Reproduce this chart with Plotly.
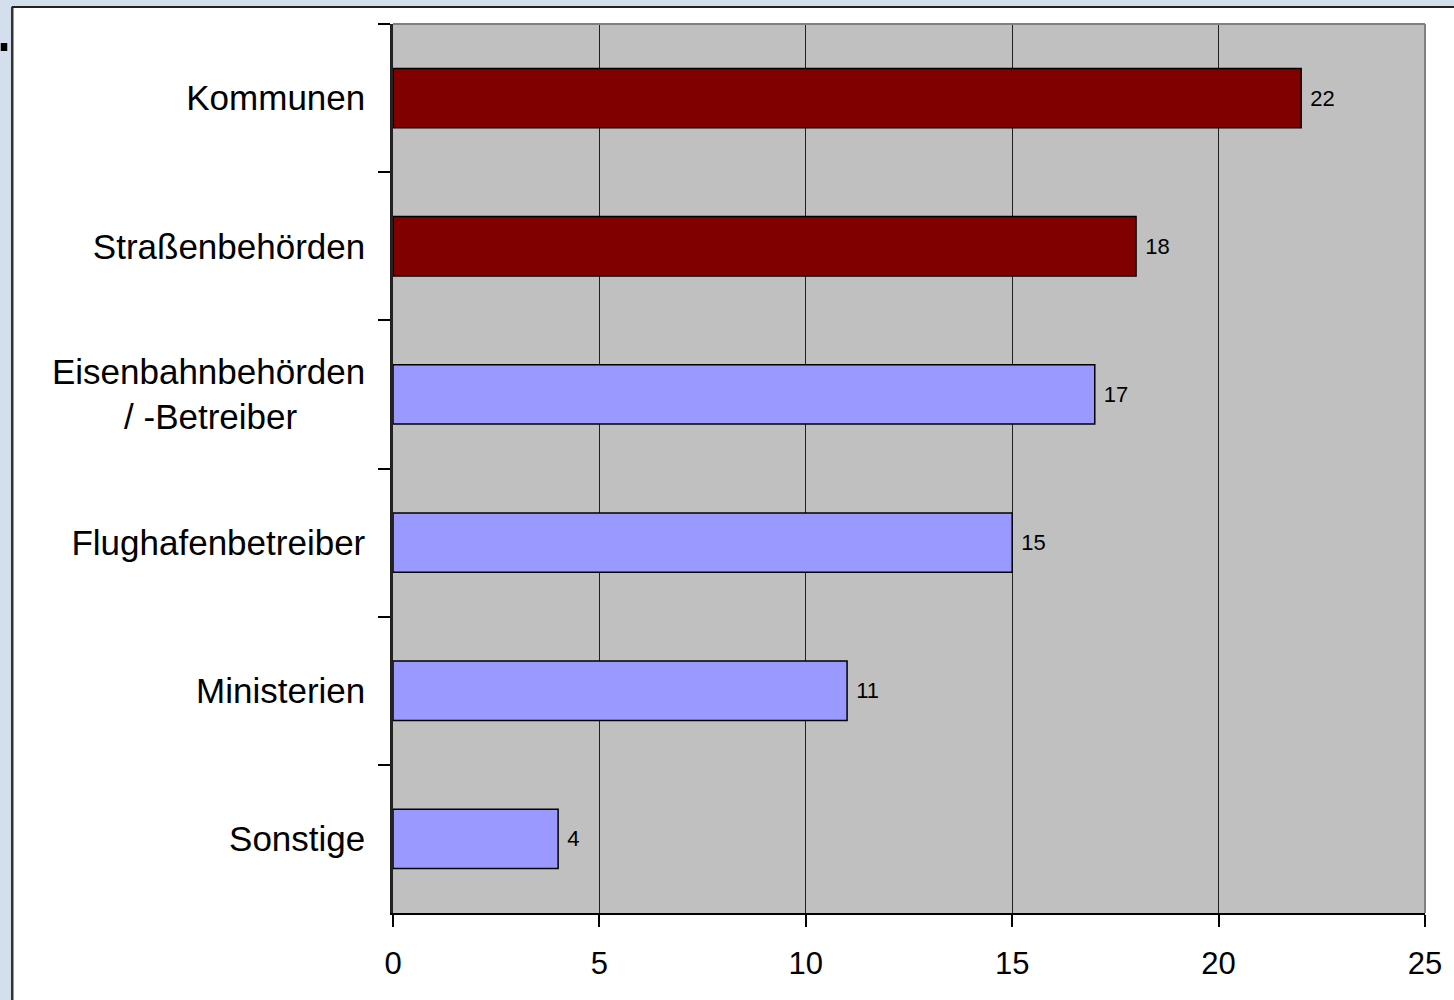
import plotly.graph_objects as go

categories = ["Kommunen", "Straßenbehörden",
              "Eisenbahnbehörden<br>/ -Betreiber" + "\u00a0" * 7,
              "Flughafenbetreiber", "Ministerien", "Sonstige"]
values = [22, 18, 17, 15, 11, 4]
bar_colors = ["#800000", "#800000", "#9999ff", "#9999ff", "#9999ff", "#9999ff"]
x_ticks = [0, 5, 10, 15, 20, 25]

W, H = 1454, 1000
L, R, T, B = 393, 1427, 24, 913
pw, ph = R - L, B - T

def px(x):
    return (x - L) / pw

def py(y):
    return (B - y) / ph

BLUE = "#d3dfec"

fig = go.Figure(go.Bar(
    y=categories, x=values, orientation="h",
    marker=dict(color=bar_colors, line=dict(color="black", width=1.5)),
    width=0.4,
    text=["\u00a0" + str(v) for v in values], textposition="outside",
    textfont=dict(family="Liberation Sans, Arial", size=22, color="black"),
    cliponaxis=False,
))

shapes = [
    # light blue strips (left and top)
    dict(type="rect", xref="paper", yref="paper", x0=px(-5), x1=px(11), y0=py(1010), y1=py(-5),
         fillcolor=BLUE, line=dict(width=0), layer="below"),
    dict(type="rect", xref="paper", yref="paper", x0=px(-5), x1=px(1460), y0=py(7), y1=py(-5),
         fillcolor=BLUE, line=dict(width=0), layer="below"),
    # left dark border
    dict(type="line", xref="paper", yref="paper", x0=px(11.5), x1=px(11.5), y0=py(1010), y1=py(7),
         line=dict(color="#333333", width=2.5), layer="below"),
    # top dark border
    dict(type="line", xref="paper", yref="paper", x0=px(11), x1=px(1460), y0=py(7), y1=py(7),
         line=dict(color="#222222", width=2), layer="below"),
    # small black square
    dict(type="rect", xref="paper", yref="paper", x0=px(0), x1=px(6.5), y0=py(51), y1=py(43),
         fillcolor="black", line=dict(width=0), layer="below"),
    # plot border top/right gray
    dict(type="line", xref="paper", yref="paper", x0=0, x1=1, y0=1, y1=1,
         line=dict(color="#808080", width=2), layer="above"),
    dict(type="line", xref="paper", yref="paper", x0=1, x1=1, y0=0, y1=1,
         line=dict(color="#808080", width=2), layer="above"),
]

fig.update_layout(
    width=W, height=H,
    margin=dict(l=L, r=W - R, t=T, b=H - B),
    paper_bgcolor="white",
    plot_bgcolor="#c0c0c0",
    showlegend=False,
    shapes=shapes,
    font=dict(family="Liberation Sans, Arial", color="black"),
    xaxis=dict(
        range=[0, 25], tickvals=x_ticks, ticktext=[str(t) for t in x_ticks],
        showgrid=True, gridcolor="#202020", gridwidth=1,
        showline=True, linecolor="black", linewidth=2,
        ticks="outside", ticklen=12, tickcolor="black", tickwidth=1.5,
        tickfont=dict(size=31, family="Liberation Sans, Arial", color="black"),
        ticklabelstandoff=10,
        zeroline=False, fixedrange=True,
    ),
    yaxis=dict(
        autorange="reversed", categoryorder="array", categoryarray=categories,
        showline=True, linecolor="#222222", linewidth=2.5,
        ticks="outside", tickson="boundaries", ticklen=12, tickcolor="black", tickwidth=1.5,
        tickfont=dict(size=35, family="Liberation Sans, Arial", color="black"),
        ticklabelstandoff=18,
        showgrid=False, fixedrange=True,
    ),
    bargap=0.6,
)

fig.write_html("out.html", post_script="document.body.style.margin='0';document.body.style.background='white';",
               config={"displayModeBar": False})
